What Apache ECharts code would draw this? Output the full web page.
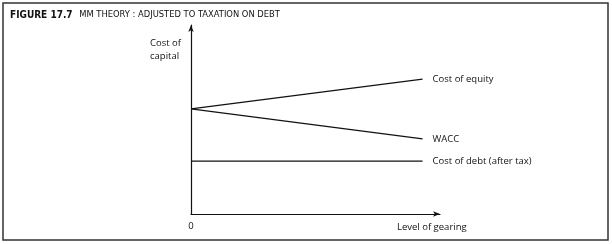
<!DOCTYPE html>
<html><head><meta charset="utf-8">
<script src="https://cdn.jsdelivr.net/npm/echarts@6/dist/echarts.min.js"></script>
<style>html,body{margin:0;padding:0;background:#fff}#c{width:612px;height:244px}</style>
</head><body><div id="c"></div>
<script>
const gearing = [0, 9.3];
const costOfEquity = [5.56, 7.14];
const wacc = [5.56, 3.97];
const costOfDebt = [2.8, 2.8];
const seriesNames = ['Cost of equity', 'WACC', 'Cost of debt (after tax)'];
const xTickLabels = ['0'];
const titleBold = 'FIGURE 17.7';
const titleRest = 'MM THEORY : ADJUSTED TO TAXATION ON DEBT';
const yAxisTitle = 'Cost of\ncapital';
const xAxisTitle = 'Level of gearing';

const chart = echarts.init(document.getElementById('c'), null, {renderer: 'canvas'});
const font = 'Open Sans';
const condensed = '"DejaVu Sans Condensed", "Liberation Sans Narrow", "Roboto Condensed", sans-serif';
const ink = '#111';
function mk(name, ys) {
  return {
    type: 'line', name: name, data: gearing.map((x, i) => [x, ys[i]]),
    symbol: 'none', lineStyle: {color: ink, width: 1.2}, silent: true,
    endLabel: {show: true, formatter: name, color: ink, fontFamily: font, fontSize: 9.5, distance: 10}
  };
}
chart.setOption({
  animation: false,
  grid: {left: 191, top: 25, right: 172, bottom: 30, containLabel: false},
  xAxis: {type: 'value', min: 0, max: 10, interval: 10,
    axisLine: {show: true, lineStyle: {color: ink, width: 1.2}, symbol: ['none', 'arrow'], symbolSize: [4, 7]},
    axisTick: {show: false}, splitLine: {show: false},
    axisLabel: {formatter: v => v === 0 ? xTickLabels[0] : '', color: ink, fontFamily: font, fontSize: 9.5, margin: 7}},
  yAxis: {type: 'value', min: 0, max: 10, interval: 10,
    axisLine: {show: true, lineStyle: {color: ink, width: 1.2}, symbol: ['none', 'arrow'], symbolSize: [4, 7]},
    axisTick: {show: false}, splitLine: {show: false}, axisLabel: {show: false}},
  series: [mk(seriesNames[0], costOfEquity), mk(seriesNames[1], wacc), mk(seriesNames[2], costOfDebt)],
  graphic: [
    {type: 'rect', shape: {x: 3, y: 3, width: 605, height: 237}, style: {fill: 'none', stroke: '#333', lineWidth: 1.5}, silent: true},
    {type: 'text', left: 10, top: 9, style: {text: '{b|' + titleBold + '}  {r|' + titleRest + '}',
      rich: {b: {fontFamily: condensed, fontWeight: 'bold', fontSize: 10, fill: ink},
             r: {fontFamily: condensed, fontSize: 9.3, fill: ink}}}},
    {type: 'text', left: 150, top: 37, style: {text: yAxisTitle, fontFamily: font, fontSize: 9.5, lineHeight: 13, fill: ink}},
    {type: 'text', left: 397, top: 222, style: {text: xAxisTitle, fontFamily: font, fontSize: 9.5, fill: ink}}
  ]
});
</script></body></html>
